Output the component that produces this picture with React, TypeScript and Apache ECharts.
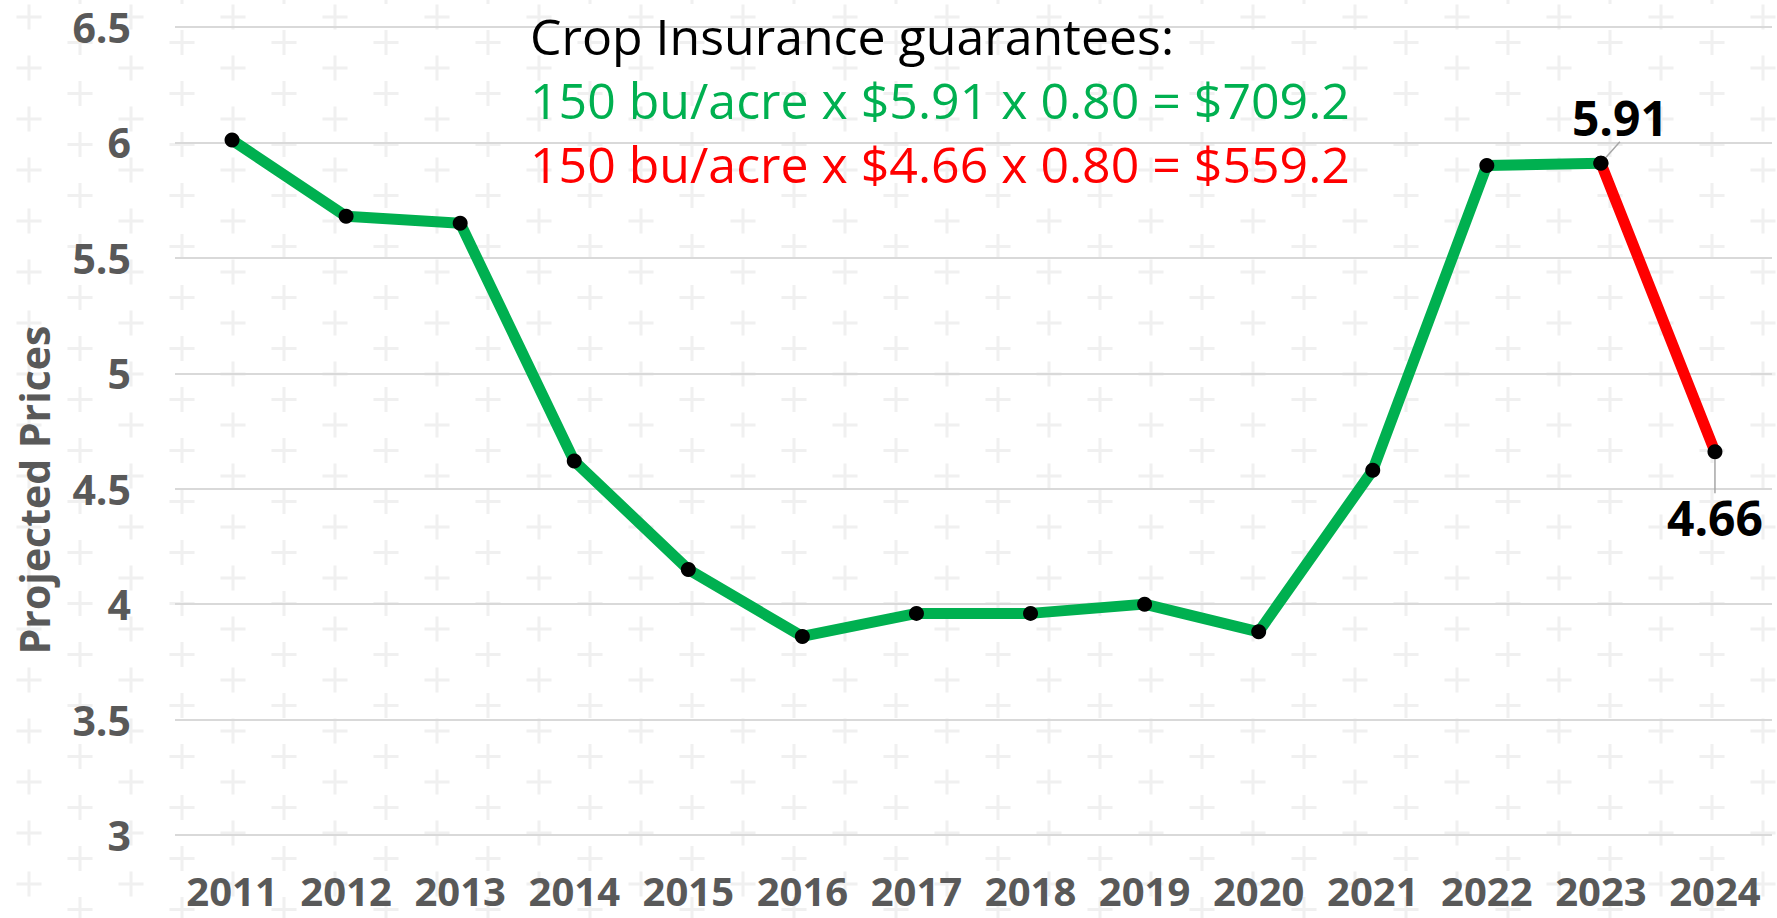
import React, { useEffect, useRef } from 'react';
import * as echarts from 'echarts';

// ---- data ----
const years = ['2011', '2012', '2013', '2014', '2015', '2016', '2017', '2018', '2019', '2020', '2021', '2022', '2023', '2024'];
const projectedPrices = [6.01, 5.68, 5.65, 4.62, 4.15, 3.86, 3.96, 3.96, 4.0, 3.88, 4.58, 5.9, 5.91, 4.66];
const greenLastIndex = 12; // green line runs 2011..2023, red 2023..2024
const yMin = 3;
const yMax = 6.5;
const yInterval = 0.5;
const yAxisName = 'Projected Prices';
const titleLines = [
  'Crop Insurance guarantees:',
  '150 bu/acre x $5.91 x 0.80 = $709.2',
  '150 bu/acre x $4.66 x 0.80 = $559.2',
];

const FONT = "'Open Sans', 'Noto Sans', sans-serif";
const GREEN = '#00B050';
const RED = '#FF0000';
const AXIS_GRAY = '#595959';

function patternUrl(): string {
  const plus = (cx: number, cy: number) =>
    `<rect x='${cx - 12.5}' y='${cy - 1.5}' width='25' height='3' fill='#F0F0F0'/>` +
    `<rect x='${cx - 1.5}' y='${cy - 12.5}' width='3' height='25' fill='#F0F0F0'/>`;
  const svg =
    `<svg xmlns='http://www.w3.org/2000/svg' width='102' height='51'>` +
    plus(29, 17) + plus(80, 42.5) + plus(80, -8.5) +
    `</svg>`;
  return `url("data:image/svg+xml;utf8,${encodeURIComponent(svg)}")`;
}

export default function App() {
  const ref = useRef<HTMLDivElement>(null);

  useEffect(() => {
    if (!ref.current) return;
    const chart = echarts.init(ref.current, undefined, { renderer: 'svg' });

    const greenData = projectedPrices.map((v, i) => (i <= greenLastIndex ? v : '-'));
    const redData = projectedPrices.map((v, i) => {
      if (i < greenLastIndex) return '-';
      return {
        value: v,
        label: {
          show: true,
          position: i === greenLastIndex ? 'top' : 'bottom',
        },
      };
    });

    const richLine = (color: string) => ({
      fontFamily: FONT,
      fontSize: 50,
      fontWeight: 'normal',
      color,
      lineHeight: 64,
    });

    chart.setOption({
      animation: false,
      backgroundColor: 'transparent',
      grid: { left: 175, right: 5, top: 27, bottom: 83, containLabel: false },
      title: {
        left: 530,
        top: 4,
        padding: 0,
        text: `{a|${titleLines[0]}}\n{b|${titleLines[1]}}\n{c|${titleLines[2]}}`,
        textStyle: {
          fontWeight: 'normal',
          rich: {
            a: richLine('#000000'),
            b: richLine(GREEN),
            c: richLine(RED),
          },
        },
      },
      xAxis: {
        type: 'category',
        data: years,
        boundaryGap: true,
        axisLine: { show: false },
        axisTick: { show: false },
        axisLabel: {
          interval: 0,
          margin: 37,
          lineHeight: 36,
          fontFamily: FONT,
          fontSize: 40,
          fontWeight: 'bold',
          color: AXIS_GRAY,
        },
        splitLine: { show: false },
      },
      yAxis: {
        type: 'value',
        min: yMin,
        max: yMax,
        interval: yInterval,
        axisLine: { show: false },
        axisTick: { show: false },
        axisLabel: {
          margin: 44,
          fontFamily: FONT,
          fontSize: 41,
          fontWeight: 'bold',
          color: AXIS_GRAY,
        },
        splitLine: { show: true, lineStyle: { color: '#D9D9D9', width: 2 } },
      },
      graphic: [
        {
          type: 'text',
          x: 34,
          y: 490,
          rotation: Math.PI / 2,
          style: {
            text: yAxisName,
            fontFamily: FONT,
            fontSize: 41,
            fontWeight: 'bold',
            fill: AXIS_GRAY,
            align: 'center',
            verticalAlign: 'middle',
          },
        },
      ],
      series: [
        {
          type: 'line',
          data: greenData,
          connectNulls: false,
          lineStyle: { color: GREEN, width: 11, cap: 'round', join: 'round' },
          symbol: 'circle',
          symbolSize: 15,
          showAllSymbol: true,
          itemStyle: { color: '#000000' },
          z: 2,
        },
        {
          type: 'line',
          data: redData,
          lineStyle: { color: RED, width: 11, cap: 'round', join: 'round' },
          symbol: 'circle',
          symbolSize: 15,
          showAllSymbol: true,
          itemStyle: { color: '#000000' },
          label: {
            fontFamily: FONT,
            fontSize: 48,
            fontWeight: 'bold',
            color: '#000000',
          },
          labelLine: { show: true, lineStyle: { color: '#A6A6A6', width: 1.5 } },
          labelLayout: (params: any) =>
            params.dataIndex === greenLastIndex ? { dx: 19, dy: -9 } : { dx: 0, dy: 29 },
          z: 3,
        },
      ],
    });

    return () => chart.dispose();
  }, []);

  return (
    <div
      style={{
        position: 'absolute',
        left: 0,
        top: 0,
        width: 1777,
        height: 918,
        backgroundColor: '#FFFFFF',
        backgroundImage: patternUrl(),
        backgroundRepeat: 'repeat',
      }}
    >
      <div ref={ref} style={{ width: 1777, height: 918 }} />
    </div>
  );
}
